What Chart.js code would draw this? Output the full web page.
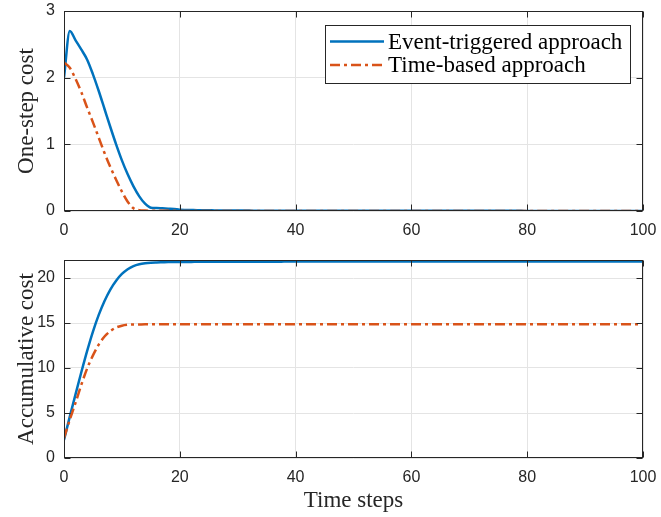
<!DOCTYPE html>
<html><head><meta charset="utf-8">
<script src="https://cdn.jsdelivr.net/npm/chart.js@4.4.1/dist/chart.umd.min.js"></script>
<style>
html,body{margin:0;padding:0;background:#fff;width:661px;height:517px;overflow:hidden}
canvas{position:absolute;left:0}
#c1{top:0}
#c2{top:248px}
</style></head><body>
<canvas id="c1" width="661" height="240"></canvas>
<canvas id="c2" width="661" height="269"></canvas>
<script>
// ---- data ----
const timeSteps = Array.from({length:101},(_,i)=>i);
const xTicks = [0,20,40,60,80,100];
const seriesNames = ['Event-triggered approach','Time-based approach'];

const oneStepEvent = [
 2.00,2.70,2.56,2.42,2.27,2.05,1.80,1.53,1.26,1.00,
 0.76,0.55,0.37,0.22,0.11,0.05,0.045,0.04,0.035,0.03,
 0.02,0.016,0.014,0.012,0.011,0.010,0.009,0.008,0.008,0.007,
 0.007,0.006,0.006,0.005,0.005,0.005,0.004,0.004,0.004,0.004,
 0.003,0.003,0.003,0.003,0.003,0.003,0.003,0.003,0.003,0.003,
 0.003,0.003,0.003,0.003,0.003,0.002,0.002,0.002,0.002,0.002,
 0.002,0.002,0.002,0.002,0.002,0.002,0.002,0.002,0.002,0.002,
 0.002,0.002,0.002,0.002,0.002,0.002,0.002,0.002,0.002,0.002,
 0.001,0.001,0.001,0.001,0.001,0.001,0.001,0.001,0.001,0.001,
 0.001,0.001,0.001,0.001,0.001,0.001,0.001,0.001,0.001,0.001,
 0.001];
const oneStepTime = [
 2.23,2.15,1.98,1.78,1.55,1.33,1.10,0.87,0.66,0.47,
 0.29,0.14,0.04,0.012,0.006,0.003,0.002,0.002,0.002,0.002,
 0.001,0.001,0.001,0.001,0.001,0.001,0.001,0.001,0.001,0.001,
 0,0,0,0,0,0,0,0,0,0,
 0,0,0,0,0,0,0,0,0,0,
 0,0,0,0,0,0,0,0,0,0,
 0,0,0,0,0,0,0,0,0,0,
 0,0,0,0,0,0,0,0,0,0,
 0,0,0,0,0,0,0,0,0,0,
 0,0,0,0,0,0,0,0,0,0,
 0];
const accumEvent = [
 2.00,4.60,7.10,9.55,11.90,14.05,15.90,17.45,18.72,19.70,
 20.45,20.98,21.33,21.53,21.64,21.70,21.73,21.75,21.77,21.78,
 21.79,21.79,21.79,21.80,21.80,21.80,21.80,21.80,21.81,21.81,
 21.81,21.81,21.81,21.81,21.81,21.81,21.81,21.81,21.82,21.82,
 21.82,21.82,21.82,21.82,21.82,21.82,21.82,21.82,21.82,21.82,
 21.82,21.82,21.82,21.82,21.82,21.82,21.82,21.82,21.82,21.82,
 21.83,21.83,21.83,21.83,21.83,21.83,21.83,21.83,21.83,21.83,
 21.83,21.83,21.83,21.83,21.83,21.83,21.83,21.83,21.83,21.83,
 21.83,21.83,21.83,21.83,21.83,21.83,21.83,21.83,21.83,21.83,
 21.83,21.83,21.83,21.83,21.83,21.83,21.83,21.83,21.83,21.83,
 21.83];
const accumTime = [
 2.20,4.25,6.15,8.15,9.95,11.40,12.60,13.50,14.10,14.50,
 14.70,14.80,14.83,14.84,14.85,14.85,14.85,14.85,14.85,14.85,
 14.85,14.85,14.85,14.85,14.85,14.85,14.85,14.85,14.85,14.85,
 14.85,14.85,14.85,14.85,14.85,14.85,14.85,14.85,14.85,14.85,
 14.85,14.85,14.85,14.85,14.85,14.85,14.85,14.85,14.85,14.85,
 14.85,14.85,14.85,14.85,14.85,14.85,14.85,14.85,14.85,14.85,
 14.85,14.85,14.85,14.85,14.85,14.85,14.85,14.85,14.85,14.85,
 14.85,14.85,14.85,14.85,14.85,14.85,14.85,14.85,14.85,14.85,
 14.85,14.85,14.85,14.85,14.85,14.85,14.85,14.85,14.85,14.85,
 14.85,14.85,14.85,14.85,14.85,14.85,14.85,14.85,14.85,14.85,
 14.85];
const topYTicks = [0,1,2,3];
const bottomYTicks = [0,5,10,15,20];

// ---- styles ----
const BLUE = '#0072BD', ORANGE = '#D95319';
const AX = '#262626';
const tickFont = {family:'"Liberation Sans", Arial, sans-serif', size:16};
const serifFont = {family:'"Liberation Serif", "Times New Roman", serif', size:23};

const pts = arr => arr.map((v,i)=>({x:timeSteps[i], y:v}));

function datasets(a,b){
  return [
    {label:seriesNames[0], data:pts(a), borderColor:BLUE, borderWidth:2.5, pointRadius:0, cubicInterpolationMode:'monotone', order:1},
    {label:seriesNames[1], data:pts(b), borderColor:ORANGE, borderWidth:2.5, borderDash:[10,4,3,4], pointRadius:0, cubicInterpolationMode:'monotone', order:0}
  ];
}

const framePlugin = {
  id:'frame',
  afterDatasetsDraw(chart){
    const {ctx, chartArea:{left,right,top,bottom}, scales:{x,y}} = chart;
    const L=Math.round(left)+0.5, R=Math.round(right)-0.5, T=Math.round(top)+0.5, B=Math.round(bottom)-0.5;
    ctx.save();
    ctx.strokeStyle=AX; ctx.lineWidth=1; ctx.setLineDash([]);
    ctx.strokeRect(L,T,R-L,B-T);
    const tl=6;
    ctx.beginPath();
    x.ticks.forEach(t=>{
      const px=Math.round(x.getPixelForValue(t.value))+0.5;
      ctx.moveTo(px,B); ctx.lineTo(px,B-tl);
      ctx.moveTo(px,T); ctx.lineTo(px,T+tl);
    });
    y.ticks.forEach(t=>{
      const py=Math.round(y.getPixelForValue(t.value))+0.5;
      ctx.moveTo(L,py); ctx.lineTo(L+tl,py);
      ctx.moveTo(R,py); ctx.lineTo(R-tl,py);
    });
    ctx.stroke();
    ctx.restore();
  }
};

const legendPlugin = {
  id:'boxLegend',
  afterDraw(chart, args, o){
    if(!o.show) return;
    const ctx=chart.ctx;
    const x0=325.5, y0=25.5, w=305, h=58;
    ctx.save();
    ctx.fillStyle='#fff'; ctx.fillRect(x0,y0,w,h);
    ctx.strokeStyle=AX; ctx.lineWidth=1; ctx.setLineDash([]); ctx.strokeRect(x0,y0,w,h);
    chart.data.datasets.forEach((ds,i)=>{
      const cy = 41.5 + i*23.5;
      ctx.strokeStyle=ds.borderColor; ctx.lineWidth=ds.borderWidth; ctx.setLineDash(ds.borderDash||[]);
      ctx.beginPath(); ctx.moveTo(330,cy); ctx.lineTo(384,cy); ctx.stroke();
      ctx.setLineDash([]);
      ctx.fillStyle='#000'; ctx.font=serifFont.size+'px '+serifFont.family;
      ctx.textBaseline='middle'; ctx.textAlign='left';
      ctx.fillText(ds.label,388,cy+1);
    });
    ctx.restore();
  }
};

function zeroPad(s){ s.paddingTop=0; s.paddingBottom=0; s.paddingLeft=0; s.paddingRight=0; }

function makeOptions({yMin,yMax,yTickVals,yTitle,xTitle,xAxisH,padTop,legend}){
  return {
    responsive:false, animation:false, devicePixelRatio:1,
    layout:{autoPadding:false, padding:{left:0,right:18,top:padTop,bottom:0}},
    plugins:{legend:{display:false}, tooltip:{enabled:false}, boxLegend:{show:legend}},
    scales:{
      x:{type:'linear', min:0, max:100,
         afterBuildTicks(s){ s.ticks = xTicks.map(v=>({value:v})); },
         ticks:{padding:10, font:tickFont, color:AX, maxRotation:0},
         grid:{color:'#e4e4e4', drawTicks:false, lineWidth:1},
         border:{display:false},
         title: xTitle ? {display:true, text:xTitle, font:serifFont, color:AX, padding:{top:0,bottom:2}} : {display:false},
         afterFit(s){ s.height = xAxisH; zeroPad(s); }},
      y:{type:'linear', min:yMin, max:yMax,
         afterBuildTicks(s){ s.ticks = yTickVals.map(v=>({value:v})); },
         ticks:{padding:9, font:tickFont, color:AX},
         grid:{color:'#e4e4e4', drawTicks:false, lineWidth:1},
         border:{display:false},
         title:{display:true, text:yTitle, font:serifFont, color:AX, padding:{top:13,bottom:0}},
         afterFit(s){ s.width = 64; zeroPad(s); }}
    }
  };
}

new Chart(document.getElementById('c1'), {
  type:'line',
  data:{datasets:datasets(oneStepEvent, oneStepTime)},
  options:makeOptions({yMin:0,yMax:3,yTickVals:topYTicks,yTitle:'One-step cost',xTitle:null,xAxisH:29,padTop:11,legend:true}),
  plugins:[framePlugin, legendPlugin]
});
new Chart(document.getElementById('c2'), {
  type:'line',
  data:{datasets:datasets(accumEvent, accumTime)},
  options:makeOptions({yMin:0,yMax:22,yTickVals:bottomYTicks,yTitle:'Accumulative cost',xTitle:'Time steps',xAxisH:59,padTop:12,legend:false}),
  plugins:[framePlugin]
});
</script>
</body></html>
